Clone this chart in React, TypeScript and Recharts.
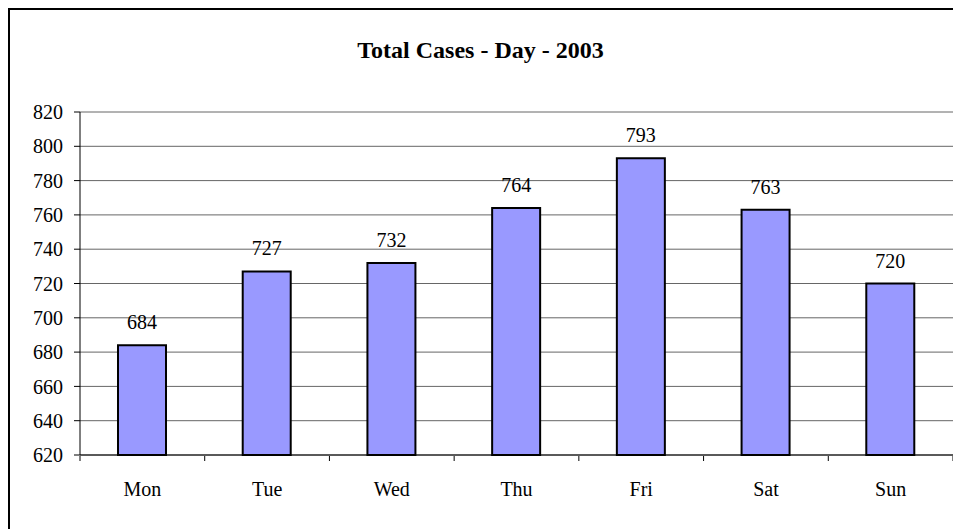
import { Bar, BarChart, CartesianGrid, LabelList, XAxis, YAxis } from "recharts";

const days = ["Mon", "Tue", "Wed", "Thu", "Fri", "Sat", "Sun"];
const totalCases = [684, 727, 732, 764, 793, 763, 720];
const yTicks = [620, 640, 660, 680, 700, 720, 740, 760, 780, 800, 820];
const boundaryTicks = [0, 1, 2, 3, 4, 5, 6, 7];

const FONT = '"Liberation Serif", "Times New Roman", Times, serif';

// slot = middle of each category on a 0..7 numeric scale, used by the tick-mark axis
const data = days.map((day, i) => ({ day, cases: totalCases[i], slot: i + 0.5 }));

export default function App() {
  return (
    <div
      style={{
        position: "relative",
        width: 951,
        height: 519,
        borderLeft: "2px solid #000",
        borderTop: "2px solid #000",
        overflow: "hidden",
        fontFamily: FONT,
        background: "#fff",
      }}
    >
      <div
        style={{
          position: "absolute",
          left: 0,
          top: 27,
          width: 941,
          textAlign: "center",
          fontSize: 24,
          fontWeight: "bold",
          color: "#000",
        }}
      >
        Total Cases - Day - 2003
      </div>
      <BarChart
        width={951}
        height={519}
        data={data}
        margin={{ top: 102, right: 8, bottom: 0, left: 0 }}
        style={{ fontFamily: FONT }}
      >
        <CartesianGrid vertical={false} stroke="#666" strokeWidth={1} xAxisId="cat" />
        {/* day labels; sits right on the plot bottom */}
        <XAxis
          xAxisId="cat"
          dataKey="day"
          axisLine={{ stroke: "#000" }}
          tickLine={false}
          tickSize={0}
          tickMargin={27}
          height={1}
          tick={{ fill: "#000", fontSize: 20, fontFamily: FONT }}
        />
        {/* tick marks between the categories */}
        <XAxis
          xAxisId="edges"
          dataKey="slot"
          type="number"
          domain={[0, 7]}
          allowDataOverflow
          ticks={boundaryTicks}
          interval={0}
          tickFormatter={() => ""}
          tickSize={5}
          tickLine={{ stroke: "#000" }}
          axisLine={false}
          height={73}
        />
        <YAxis
          domain={[620, 820]}
          ticks={yTicks}
          interval={0}
          width={70}
          tickSize={6}
          tickMargin={11}
          axisLine={{ stroke: "#000" }}
          tickLine={{ stroke: "#000" }}
          tick={{ fill: "#000", fontSize: 20, fontFamily: FONT }}
        />
        <Bar
          xAxisId="cat"
          dataKey="cases"
          fill="#9999FF"
          stroke="#000"
          strokeWidth={2}
          barSize={48}
          isAnimationActive={false}
        >
          <LabelList
            dataKey="cases"
            position="top"
            offset={16}
            fill="#000"
            fontSize={20}
            fontFamily={FONT}
          />
        </Bar>
      </BarChart>
    </div>
  );
}
